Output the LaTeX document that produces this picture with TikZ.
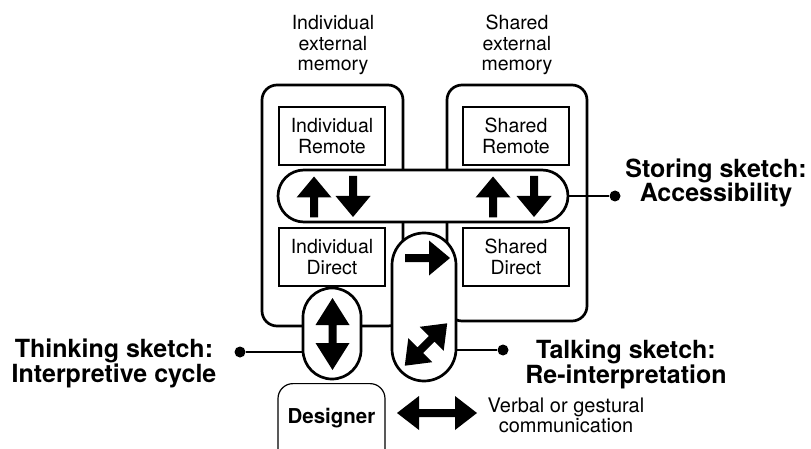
\documentclass[tikz,border=0pt]{standalone}
\usepackage{fontspec}
\setmainfont{TeX Gyre Heros}
\begin{document}
\begin{tikzpicture}[x=1pt,y=-1pt,
  memory/.style={draw, line width=2.7pt, rounded corners=15pt, inner sep=0pt},
  store/.style={draw, line width=1.2pt, inner sep=0pt, minimum width=106pt, minimum height=58pt,
    align=center, font=\fontsize{19.5}{20.5}\selectfont},
  pill/.style={draw, fill=white, line width=2.7pt, inner sep=0pt},
  dot/.style={circle, fill, inner sep=0pt, minimum size=11pt},
  conn/.style={line width=2.5pt},
  plain/.style={align=center, font=\fontsize{19.5}{20.5}\selectfont, inner sep=0pt},
  boldlab/.style={align=center, font=\bfseries\fontsize{25}{24.5}\selectfont, inner sep=0pt},
  pics/blockarrow/.style={code={
    \fill ({-#1/2},-4) -- ({#1/2-21},-4) -- ({#1/2-21},-17.5) -- ({#1/2},0)
      -- ({#1/2-21},17.5) -- ({#1/2-21},4) -- ({-#1/2},4) -- cycle;
  }},
  pics/dblarrow/.style 2 args={code={
    \fill ({-#1/2},0) -- ({-#1/2+#2},-17) -- ({-#1/2+#2},-4) -- ({#1/2-#2},-4)
      -- ({#1/2-#2},-17) -- ({#1/2},0) -- ({#1/2-#2},17) -- ({#1/2-#2},4)
      -- ({-#1/2+#2},4) -- ({-#1/2+#2},17) -- cycle;
  }}
]
\useasboundingbox (0,0) rectangle (811,449);
\clip (0,0) rectangle (811,449);

% column headings (anchored on the baseline of the last line)
\node[plain, anchor=base] (indhead) at (333,71) {Individual\\external\\memory};
\node[plain, anchor=base] (shhead) at (517,71) {Shared\\external\\memory};

% external memories
\node[memory, minimum width=141pt, minimum height=241pt] (indmem) at (332.5,205.5) {};
\node[memory, minimum width=140pt, minimum height=236pt] (shmem) at (517,203) {};

% stores inside the memories
\node[store] (indrem) at (332,136) {Individual\\Remote};
\node[store] (shrem) at (516,136) {Shared\\Remote};
\node[store] (inddir) at (332,257) {Individual\\Direct};
\node[store] (shdir) at (516,257) {Shared\\Direct};

% sketch channels
\node[pill, minimum width=290pt, minimum height=52pt, rounded corners=26pt] (storing) at (423,196) {};
\node[pill, minimum width=58pt, minimum height=91pt, rounded corners=29pt] (think) at (332,333.5) {};
\node[pill, minimum width=64pt, minimum height=148pt, rounded corners=32pt] (talk) at (424,307) {};

% transfer arrows
\pic[rotate=90] at (314,197) {blockarrow=41};
\pic[rotate=-90] at (353,196.5) {blockarrow=41};
\pic[rotate=90] at (493,197) {blockarrow=41};
\pic[rotate=-90] at (534,196.5) {blockarrow=41};
\pic at (427.5,258) {blockarrow=45};
\pic[rotate=90] at (332.5,334) {dblarrow={72}{27}};
\pic[rotate=45] at (426,344.5) {dblarrow={60}{22}};
\pic at (437,413) {dblarrow={80}{22}};

% designer
\node[draw, line width=1.2pt, rounded corners=15pt, minimum width=107pt, inner sep=0pt,
  text height=40pt, text depth=50pt, anchor=north,
  font=\bfseries\fontsize{20.5}{22}\selectfont] (designer) at (331.5,383) {Designer};
\node[plain, font=\fontsize{20}{20}\selectfont, anchor=base] (verbal) at (566,432)
  {Verbal or gestural\\communication};

% callouts
\node[dot] (dotS) at (615,196) {};
\draw[conn] (storing.east) -- (dotS);
\node[boldlab, anchor=base] (lblS) at (716,202) {Storing sketch:\\Accessibility};

\node[dot] (dotTh) at (240,352) {};
\draw[conn] (dotTh) -- (dotTh -| think.west);
\node[boldlab, anchor=base] (lblTh) at (114,382) {Thinking sketch:\\Interpretive cycle};

\node[dot] (dotTa) at (503,350) {};
\draw[conn] (dotTa -| talk.east) -- (dotTa);
\node[boldlab, anchor=base] (lblTa) at (626,383) {Talking sketch:\\Re-interpretation};
\end{tikzpicture}
\end{document}
